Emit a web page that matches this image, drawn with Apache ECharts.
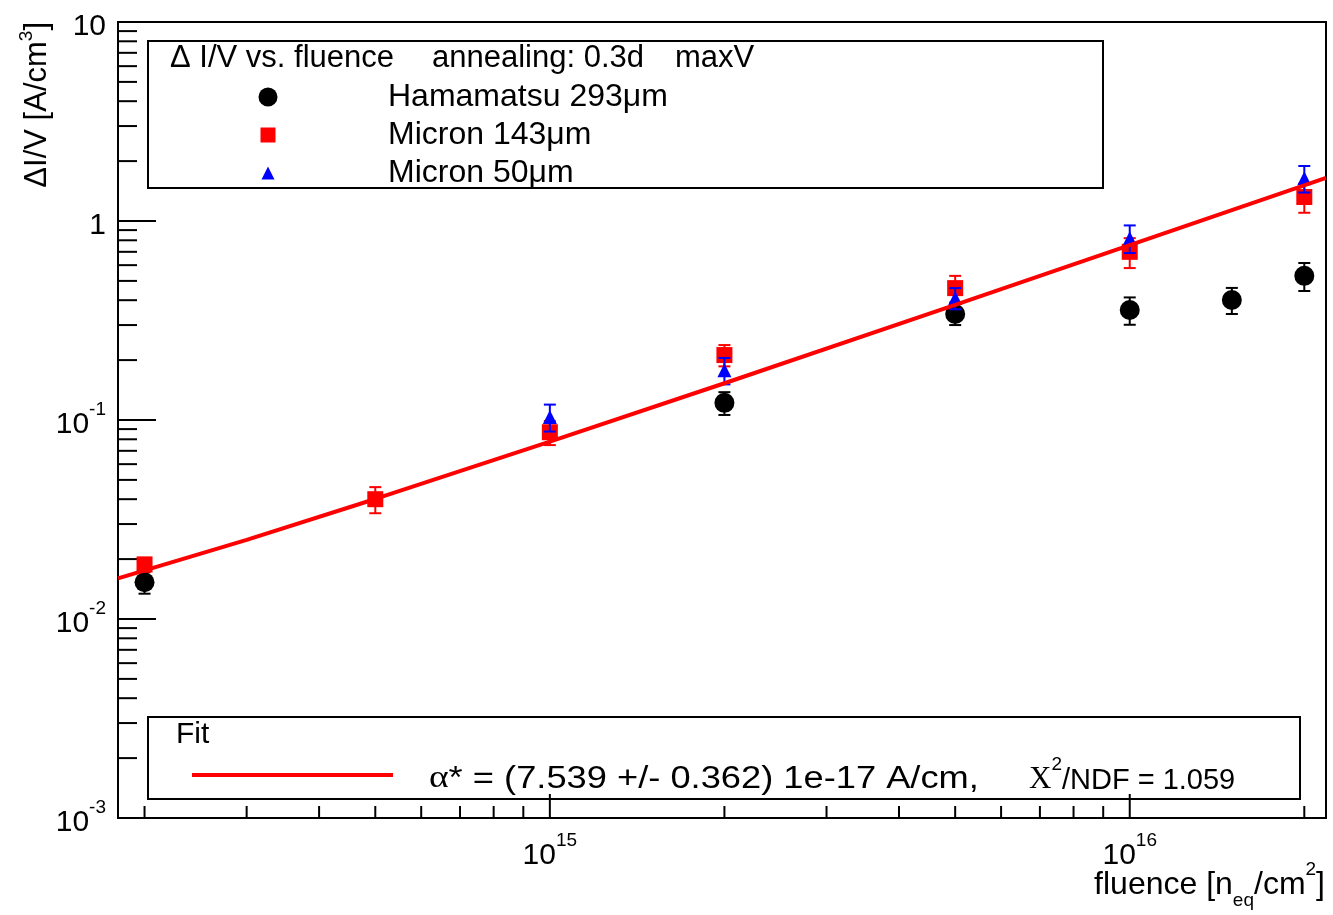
<!DOCTYPE html>
<html><head><meta charset="utf-8">
<script src="https://cdn.jsdelivr.net/npm/echarts@6/dist/echarts.min.js"></script>
<style>html,body{margin:0;padding:0;background:#fff;}#c{width:1333px;height:915px;}</style>
</head><body><div id="c"></div>
<script>
// ---- data ----
const hamaName = 'Hamamatsu 293\u03bcm';
const hamaX = [2e14, 2e15, 5e15, 1e16, 1.5e16, 2e16];
const hamaY = [0.0153, 0.122, 0.341, 0.357, 0.401, 0.53];
const hamaErr = [0.0019, 0.016, 0.041, 0.056, 0.06, 0.085];

const m143Name = 'Micron 143\u03bcm';
const m143X = [2e14, 5e14, 1e15, 2e15, 5e15, 1e16, 2e16];
const m143Y = [0.0188, 0.0400, 0.0868, 0.212, 0.46, 0.70, 1.32];
const m143Err = [0.0015, 0.006, 0.012, 0.026, 0.07, 0.12, 0.22];

const m50Name = 'Micron 50\u03bcm';
const m50X = [1e15, 2e15, 5e15, 1e16, 2e16];
const m50Y = [0.1035, 0.178, 0.41, 0.82, 1.64];
const m50Err = [0.016, 0.027, 0.05, 0.13, 0.25];

const fitX = [1.8e14, 3e14, 5e14, 1e15, 2e15, 5e15, 1e16, 2.18e16];
const fitY = [0.0160, 0.0250, 0.0401, 0.0778, 0.153, 0.379, 0.756, 1.646];

const xMin = 1.8e14, xMax = 2.18e16;
const yMin = 1e-3, yMax = 10;
const tickMantissas = [1, 2, 3, 4, 5, 6, 7, 8, 9];
const xDecades = [1e14, 1e15, 1e16];
const yDecades = [1e-3, 1e-2, 1e-1, 1];

const headerParts = ['\u0394 I/V vs. fluence', 'annealing: 0.3d', 'maxV'];
const fitTitle = 'Fit';
const fitText1 = '{g|\u03b1}{a|* = (7.539 +/- 0.362) 1e-17 A/cm,}';
const fitText2 = '{g|\u03a7}{s|2}{a|/NDF = 1.059}';

// ---- build ----
const FONT = 'Liberation Sans';
const xTicks = [], yTicks = [];
xDecades.forEach(d => tickMantissas.forEach(m => { const v = m * d; if (v > xMin * 1.001 && v < xMax * 0.999) xTicks.push([v, 1, m === 1 ? 1 : 0]); }));
yDecades.forEach(d => tickMantissas.forEach(m => { const v = m * d; if (v > yMin * 1.001 && v < yMax * 0.999) yTicks.push([1e15, v, m === 1 ? 1 : 0]); }));

function powLabel(v) {
  const e = Math.log10(v), r = Math.round(e);
  if (Math.abs(e - r) > 1e-6) return '';
  if (r === 0) return '{b|1}';
  if (r === 1) return '{b|10}';
  return '{b|10}{s|' + r + '}';
}
const labelRich = {
  b: { fontSize: 30, fontFamily: FONT, color: '#000', lineHeight: 40, verticalAlign: 'bottom' },
  s: { fontSize: 19, fontFamily: FONT, color: '#000', lineHeight: 22, verticalAlign: 'top' }
};

function errSeries(name, xs, ys, errs, color, z) {
  return {
    type: 'custom', name: name + ' err', silent: true, z: z,
    data: xs.map((x, i) => [x, ys[i] - errs[i], ys[i] + errs[i]]),
    encode: { x: 0, y: [1, 2] },
    renderItem: function (params, api) {
      const x = api.value(0), lo = api.value(1), hi = api.value(2);
      const a = api.coord([x, lo]), b = api.coord([x, hi]);
      const c = 6, st = { stroke: color, lineWidth: 2 };
      return { type: 'group', children: [
        { type: 'line', shape: { x1: a[0], y1: a[1], x2: b[0], y2: b[1] }, style: st },
        { type: 'line', shape: { x1: a[0] - c, y1: a[1], x2: a[0] + c, y2: a[1] }, style: st },
        { type: 'line', shape: { x1: b[0] - c, y1: b[1], x2: b[0] + c, y2: b[1] }, style: st }
      ] };
    }
  };
}
function pts(xs, ys) { return xs.map((x, i) => [x, ys[i]]); }
function txt(x, y, text, size, extra) {
  return Object.assign({ type: 'text', x: x, y: y, style: { text: text, fontSize: size, fontFamily: FONT, fill: '#000',
    textAlign: 'left', textVerticalAlign: 'middle', align: 'left', verticalAlign: 'middle' } }, extra || {});
}

const legendText = { fontSize: 32, fontFamily: FONT, color: '#000', lineHeight: 34 };
const fitRich = {
  a: { fontSize: 31, fontFamily: FONT, fill: '#000', color: '#000', lineHeight: 40, verticalAlign: 'bottom' },
  g: { fontSize: 32, fontFamily: 'Liberation Serif', fill: '#000', color: '#000', lineHeight: 40, verticalAlign: 'bottom' },
  s: { fontSize: 19, fontFamily: FONT, fill: '#000', color: '#000', lineHeight: 22, verticalAlign: 'top' }
};
const fitRich2 = {
  a: { fontSize: 29, fontFamily: FONT, fill: '#000', color: '#000', lineHeight: 40, verticalAlign: 'bottom' },
  g: { fontSize: 31, fontFamily: 'Liberation Serif', fill: '#000', color: '#000', lineHeight: 40, verticalAlign: 'bottom' },
  s: { fontSize: 19, fontFamily: FONT, fill: '#000', color: '#000', lineHeight: 22, verticalAlign: 'top' }
};

const option = {
  animation: false,
  backgroundColor: '#fff',
  grid: { left: 118, right: 7, top: 22, bottom: 97, show: true, borderColor: '#000', borderWidth: 2, backgroundColor: 'transparent' },
  xAxis: {
    type: 'log', logBase: 10, min: xMin, max: xMax,
    axisLine: { show: false }, axisTick: { show: false }, splitLine: { show: false },
    axisLabel: { margin: 13, formatter: powLabel, rich: labelRich, hideOverlap: false }
  },
  yAxis: {
    type: 'log', logBase: 10, min: yMin, max: yMax,
    axisLine: { show: false }, axisTick: { show: false }, splitLine: { show: false },
    axisLabel: { margin: 12, formatter: powLabel, rich: labelRich, hideOverlap: false }
  },
  legend: [
    { data: [{ name: hamaName, icon: 'circle' }], orient: 'vertical', left: 258.5, top: 80, padding: 0, itemWidth: 19, itemHeight: 19, selectedMode: false, textStyle: Object.assign({ padding: [0, 0, 0, 105.5] }, legendText) },
    { data: [{ name: m143Name, icon: 'rect' }], orient: 'vertical', left: 260.5, top: 118, padding: 0, itemWidth: 15, itemHeight: 15, selectedMode: false, textStyle: Object.assign({ padding: [0, 0, 0, 107.5] }, legendText) },
    { data: [{ name: m50Name, icon: 'triangle' }], orient: 'vertical', left: 261.5, top: 156, padding: 0, itemWidth: 13, itemHeight: 13, selectedMode: false, textStyle: Object.assign({ padding: [0, 0, 0, 108.5] }, legendText) }
  ],
  graphic: { elements: [
    { type: 'rect', shape: { x: 148, y: 41, width: 955, height: 147 }, style: { fill: 'rgba(0,0,0,0)', stroke: '#000', lineWidth: 2 } },
    txt(170, 58, headerParts[0], 31),
    txt(432, 58, headerParts[1], 31),
    txt(675, 58, headerParts[2], 31),
    { type: 'rect', shape: { x: 148, y: 717, width: 1152, height: 82 }, style: { fill: 'rgba(0,0,0,0)', stroke: '#000', lineWidth: 2 } },
    txt(176, 735, fitTitle, 30),
    { type: 'line', shape: { x1: 192, y1: 775, x2: 393, y2: 775 }, style: { stroke: '#ff0000', lineWidth: 4 } },
    { type: 'text', x: 429, y: 775, scaleX: 1.17, style: { text: fitText1,
        textAlign: 'left', textVerticalAlign: 'middle', align: 'left', verticalAlign: 'middle', rich: fitRich } },
    { type: 'text', x: 1029, y: 775, style: { text: fitText2,
        textAlign: 'left', textVerticalAlign: 'middle', align: 'left', verticalAlign: 'middle', rich: fitRich2 } },
    { type: 'text', x: 37, y: 22, rotation: Math.PI / 2, style: {
        text: '{a|\u0394I/V [A/cm}{s|3}{a|]}',
        textAlign: 'right', textVerticalAlign: 'middle', align: 'right', verticalAlign: 'middle',
        rich: {
          a: { fontSize: 31, fontFamily: FONT, fill: '#000', color: '#000', lineHeight: 40 },
          s: { fontSize: 19, fontFamily: FONT, fill: '#000', color: '#000', lineHeight: 22, verticalAlign: 'top' }
        } } },
    { type: 'text', x: 1325, y: 885, style: {
        text: '{a|fluence [n}{d|eq}{a|/cm}{s|2}{a|]}',
        textAlign: 'right', textVerticalAlign: 'middle', align: 'right', verticalAlign: 'middle',
        rich: {
          a: { fontSize: 32, fontFamily: FONT, fill: '#000', color: '#000', lineHeight: 50 },
          s: { fontSize: 19, fontFamily: FONT, fill: '#000', color: '#000', lineHeight: 26, verticalAlign: 'top' },
          d: { fontSize: 19, fontFamily: FONT, fill: '#000', color: '#000', lineHeight: 10, verticalAlign: 'bottom' }
        } } }
  ] },
  series: [
    { type: 'custom', name: 'xticks', silent: true, z: 3, data: xTicks, encode: { x: 0, y: 1 },
      renderItem: function (params, api) {
        const cs = params.coordSys; const px = api.coord([api.value(0), 1])[0];
        const by = cs.y + cs.height; const len = api.value(2) ? 24 : 12;
        return { type: 'line', shape: { x1: px, y1: by, x2: px, y2: by - len }, style: { stroke: '#000', lineWidth: 2 } };
      } },
    { type: 'custom', name: 'yticks', silent: true, z: 3, data: yTicks, encode: { x: 0, y: 1 },
      renderItem: function (params, api) {
        const cs = params.coordSys; const py = api.coord([1e15, api.value(1)])[1];
        const len = api.value(2) ? 38 : 19;
        return { type: 'line', shape: { x1: cs.x, y1: py, x2: cs.x + len, y2: py }, style: { stroke: '#000', lineWidth: 2 } };
      } },
    errSeries(hamaName, hamaX, hamaY, hamaErr, '#000', 4),
    { type: 'scatter', name: hamaName, z: 5, symbol: 'circle', symbolSize: 20, itemStyle: { color: '#000', opacity: 1 }, data: pts(hamaX, hamaY) },
    errSeries(m143Name, m143X, m143Y, m143Err, '#ff0000', 6),
    { type: 'scatter', name: m143Name, z: 7, symbol: 'rect', symbolSize: 16, itemStyle: { color: '#ff0000', opacity: 1 }, data: pts(m143X, m143Y) },
    errSeries(m50Name, m50X, m50Y, m50Err, '#0000ff', 8),
    { type: 'scatter', name: m50Name, z: 9, symbol: 'triangle', symbolSize: 14, itemStyle: { color: '#0000ff', opacity: 1 }, data: pts(m50X, m50Y) },
    { type: 'line', name: 'fit', z: 10, symbol: 'none', silent: true, lineStyle: { color: '#ff0000', width: 4 }, itemStyle: { color: '#ff0000' }, data: pts(fitX, fitY) }
  ]
};
const chart = echarts.init(document.getElementById('c'), null, { renderer: 'canvas' });
chart.setOption(option);
</script>
</body></html>
